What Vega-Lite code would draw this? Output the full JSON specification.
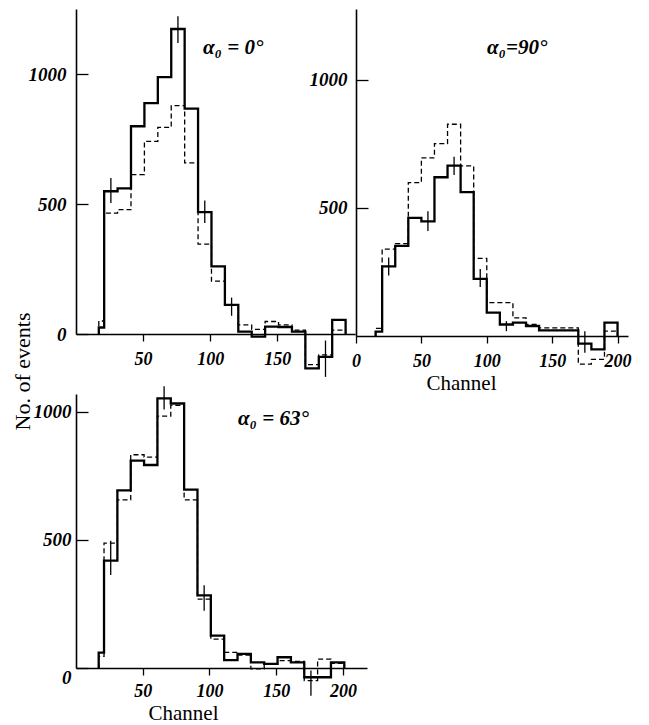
{
  "$schema": "https://vega.github.io/schema/vega-lite/v6.json",
  "background": "white",
  "padding": {"left": 11, "top": 9, "right": 5, "bottom": 0},
  "datasets": {
    "h": [
      {"p":1,"s":"solid","x":17,"n":0},{"p":1,"s":"solid","x":17,"n":25},{"p":1,"s":"solid","x":21,"n":549},{"p":1,"s":"solid","x":31,"n":560},{"p":1,"s":"solid","x":41,"n":799},{"p":1,"s":"solid","x":51,"n":888},{"p":1,"s":"solid","x":61,"n":988},{"p":1,"s":"solid","x":71,"n":1173},{"p":1,"s":"solid","x":81,"n":867},{"p":1,"s":"solid","x":91,"n":469},{"p":1,"s":"solid","x":101,"n":260},{"p":1,"s":"solid","x":111,"n":112},{"p":1,"s":"solid","x":121,"n":9},{"p":1,"s":"solid","x":131,"n":-10},{"p":1,"s":"solid","x":141,"n":28},{"p":1,"s":"solid","x":151,"n":27},{"p":1,"s":"solid","x":161,"n":9},{"p":1,"s":"solid","x":171,"n":-132},{"p":1,"s":"solid","x":181,"n":-88},{"p":1,"s":"solid","x":191,"n":54},{"p":1,"s":"solid","x":201,"n":0},
      {"p":1,"s":"dash","x":17,"n":0},{"p":1,"s":"dash","x":17,"n":50},{"p":1,"s":"dash","x":21,"n":465},{"p":1,"s":"dash","x":31,"n":478},{"p":1,"s":"dash","x":41,"n":613},{"p":1,"s":"dash","x":51,"n":741},{"p":1,"s":"dash","x":61,"n":795},{"p":1,"s":"dash","x":71,"n":878},{"p":1,"s":"dash","x":81,"n":658},{"p":1,"s":"dash","x":91,"n":346},{"p":1,"s":"dash","x":101,"n":203},{"p":1,"s":"dash","x":111,"n":110},{"p":1,"s":"dash","x":121,"n":35},{"p":1,"s":"dash","x":131,"n":18},{"p":1,"s":"dash","x":141,"n":48},{"p":1,"s":"dash","x":151,"n":35},{"p":1,"s":"dash","x":161,"n":15},{"p":1,"s":"dash","x":171,"n":-118},{"p":1,"s":"dash","x":181,"n":-80},{"p":1,"s":"dash","x":191,"n":15},{"p":1,"s":"dash","x":201,"n":0},
      {"p":2,"s":"solid","x":15,"n":0},{"p":2,"s":"solid","x":15,"n":17},{"p":2,"s":"solid","x":20,"n":272},{"p":2,"s":"solid","x":30,"n":352},{"p":2,"s":"solid","x":40,"n":461},{"p":2,"s":"solid","x":50,"n":448},{"p":2,"s":"solid","x":60,"n":620},{"p":2,"s":"solid","x":70,"n":665},{"p":2,"s":"solid","x":80,"n":562},{"p":2,"s":"solid","x":90,"n":223},{"p":2,"s":"solid","x":100,"n":91},{"p":2,"s":"solid","x":110,"n":45},{"p":2,"s":"solid","x":120,"n":52},{"p":2,"s":"solid","x":130,"n":39},{"p":2,"s":"solid","x":140,"n":22},{"p":2,"s":"solid","x":150,"n":22},{"p":2,"s":"solid","x":160,"n":22},{"p":2,"s":"solid","x":170,"n":-30},{"p":2,"s":"solid","x":180,"n":-52},{"p":2,"s":"solid","x":190,"n":52},{"p":2,"s":"solid","x":200,"n":0},
      {"p":2,"s":"dash","x":15,"n":0},{"p":2,"s":"dash","x":15,"n":30},{"p":2,"s":"dash","x":20,"n":339},{"p":2,"s":"dash","x":30,"n":361},{"p":2,"s":"dash","x":40,"n":599},{"p":2,"s":"dash","x":50,"n":696},{"p":2,"s":"dash","x":60,"n":751},{"p":2,"s":"dash","x":70,"n":827},{"p":2,"s":"dash","x":80,"n":664},{"p":2,"s":"dash","x":90,"n":303},{"p":2,"s":"dash","x":100,"n":130},{"p":2,"s":"dash","x":110,"n":130},{"p":2,"s":"dash","x":120,"n":71},{"p":2,"s":"dash","x":130,"n":45},{"p":2,"s":"dash","x":140,"n":32},{"p":2,"s":"dash","x":150,"n":32},{"p":2,"s":"dash","x":160,"n":32},{"p":2,"s":"dash","x":170,"n":-110},{"p":2,"s":"dash","x":180,"n":-91},{"p":2,"s":"dash","x":190,"n":19},{"p":2,"s":"dash","x":200,"n":0},
      {"p":3,"s":"solid","x":17,"n":0},{"p":3,"s":"solid","x":17,"n":60},{"p":3,"s":"solid","x":21,"n":419},{"p":3,"s":"solid","x":31,"n":693},{"p":3,"s":"solid","x":41,"n":809},{"p":3,"s":"solid","x":51,"n":792},{"p":3,"s":"solid","x":61,"n":1052},{"p":3,"s":"solid","x":71,"n":1032},{"p":3,"s":"solid","x":81,"n":696},{"p":3,"s":"solid","x":91,"n":283},{"p":3,"s":"solid","x":101,"n":126},{"p":3,"s":"solid","x":111,"n":31},{"p":3,"s":"solid","x":121,"n":55},{"p":3,"s":"solid","x":131,"n":22},{"p":3,"s":"solid","x":141,"n":16},{"p":3,"s":"solid","x":151,"n":42},{"p":3,"s":"solid","x":161,"n":22},{"p":3,"s":"solid","x":171,"n":-36},{"p":3,"s":"solid","x":181,"n":-36},{"p":3,"s":"solid","x":191,"n":22},{"p":3,"s":"solid","x":201,"n":0},
      {"p":3,"s":"dash","x":17,"n":0},{"p":3,"s":"dash","x":17,"n":45},{"p":3,"s":"dash","x":21,"n":487},{"p":3,"s":"dash","x":31,"n":656},{"p":3,"s":"dash","x":41,"n":832},{"p":3,"s":"dash","x":51,"n":823},{"p":3,"s":"dash","x":61,"n":983},{"p":3,"s":"dash","x":71,"n":1025},{"p":3,"s":"dash","x":81,"n":656},{"p":3,"s":"dash","x":91,"n":269},{"p":3,"s":"dash","x":101,"n":113},{"p":3,"s":"dash","x":111,"n":61},{"p":3,"s":"dash","x":121,"n":50},{"p":3,"s":"dash","x":131,"n":-3},{"p":3,"s":"dash","x":141,"n":16},{"p":3,"s":"dash","x":151,"n":29},{"p":3,"s":"dash","x":161,"n":26},{"p":3,"s":"dash","x":171,"n":-49},{"p":3,"s":"dash","x":181,"n":35},{"p":3,"s":"dash","x":191,"n":18},{"p":3,"s":"dash","x":201,"n":0}
    ],
    "e": [
      {"p":1,"x":26,"n":504,"n2":600},{"p":1,"x":76,"n":1119,"n2":1222},{"p":1,"x":96,"n":427,"n2":513},{"p":1,"x":116,"n":70,"n2":140},{"p":1,"x":186,"n":-165,"n2":-25},
      {"p":2,"x":25,"n":236,"n2":307},{"p":2,"x":55,"n":410,"n2":487},{"p":2,"x":75,"n":629,"n2":700},{"p":2,"x":95,"n":191,"n2":262},{"p":2,"x":115,"n":19,"n2":58},{"p":2,"x":175,"n":-65,"n2":19},
      {"p":3,"x":26,"n":363,"n2":496},{"p":3,"x":66,"n":1009,"n2":1099},{"p":3,"x":96,"n":223,"n2":323},{"p":3,"x":176,"n":-108,"n2":-10}
    ]
  },
  "config": {
    "view": {"stroke": null},
    "axis": {
      "grid": false, "domainColor": "#000", "domainWidth": 1.6, "tickColor": "#000", "tickWidth": 1.3,
      "labelColor": "#000", "labelFont": "Liberation Sans Narrow", "labelFontStyle": "italic", "labelFontWeight": "bold", "labelFontSize": 19,
      "labelOverlap": false, "labelFlush": false, "format": "d",
      "titleFont": "Liberation Serif", "titleFontWeight": "normal", "titleFontSize": 22, "titleColor": "#000"
    },
    "axisX": {"tickSize": 7, "labelPadding": 9, "labelFontSize": 18},
    "axisY": {"tickSize": -12},
    "title": {"font": "Liberation Sans Narrow", "fontStyle": "italic", "fontWeight": "bold", "fontSize": 21, "color": "#000", "anchor": "start", "baseline": "alphabetic", "frame": "group"}
  },
  "bounds": "flush",
  "align": "none",
  "columns": 2,
  "spacing": {"column": -11, "row": 58},
  "concat": [
    {
      "width": 279, "height": 325,
      "title": {"text": "α₀ = 0°", "dx": 127, "offset": -49},
      "encoding": {
        "x": {"field": "x", "type": "quantitative", "scale": {"domain": [0, 208], "nice": false, "zero": false}, "axis": {"values": [50, 100, 150], "title": null}},
        "y": {"field": "n", "type": "quantitative", "scale": {"domain": [0, 1250], "nice": false}, "axis": {"values": [0, 500, 1000], "labelPadding": 22, "title": "No. of events", "titleX": -54, "titleY": 362, "titleAngle": -90, "titleAlign": "center", "titleBaseline": "middle"}}
      },
      "layer": [
        {"data": {"name": "h"}, "transform": [{"filter": "datum.p == 1 && datum.s == 'dash'"}], "mark": {"type": "line", "interpolate": "step-after", "color": "#000", "strokeWidth": 1.3, "strokeDash": [5, 3]}},
        {"data": {"name": "h"}, "transform": [{"filter": "datum.p == 1 && datum.s == 'solid'"}], "mark": {"type": "line", "interpolate": "step-after", "color": "#000", "strokeWidth": 2.3}},
        {"data": {"name": "e"}, "transform": [{"filter": "datum.p == 1"}], "mark": {"type": "rule", "color": "#000", "strokeWidth": 1.3}, "encoding": {"y2": {"field": "n2"}}}
      ]
    },
    {
      "width": 272, "height": 327,
      "title": {"text": "α₀=90°", "dx": 131, "offset": -49},
      "encoding": {
        "x": {"field": "x", "type": "quantitative", "scale": {"domain": [0, 208], "nice": false, "zero": false}, "axis": {"values": [0, 50, 100, 150, 200], "title": "Channel", "titleX": 105, "titleY": 36, "titleFontSize": 21, "titleAlign": "center", "titleBaseline": "top"}},
        "y": {"field": "n", "type": "quantitative", "scale": {"domain": [0, 1277], "nice": false}, "axis": {"values": [500, 1000], "title": null, "labelPadding": 21}}
      },
      "layer": [
        {"data": {"name": "h"}, "transform": [{"filter": "datum.p == 2 && datum.s == 'dash'"}], "mark": {"type": "line", "interpolate": "step-after", "color": "#000", "strokeWidth": 1.3, "strokeDash": [5, 3]}},
        {"data": {"name": "h"}, "transform": [{"filter": "datum.p == 2 && datum.s == 'solid'"}], "mark": {"type": "line", "interpolate": "step-after", "color": "#000", "strokeWidth": 2.3}},
        {"data": {"name": "e"}, "transform": [{"filter": "datum.p == 2"}], "mark": {"type": "rule", "color": "#000", "strokeWidth": 1.3}, "encoding": {"y2": {"field": "n2"}}}
      ]
    },
    {
      "width": 291, "height": 274,
      "title": {"text": "α₀ = 63°", "dx": 162, "offset": -43},
      "encoding": {
        "x": {"field": "x", "type": "quantitative", "scale": {"domain": [0, 218], "nice": false, "zero": false}, "axis": {"values": [50, 100, 150, 200], "labelPadding": 7, "title": "Channel", "titleX": 107, "titleY": 34, "titleFontSize": 21, "titleAlign": "center", "titleBaseline": "top"}},
        "y": {"field": "n", "type": "quantitative", "scale": {"domain": [0, 1069], "nice": false}, "axis": {"values": [0, 500, 1000], "labelPadding": 17, "labelBaseline": {"condition": {"test": "datum.value === 0", "value": "top"}, "value": "middle"}, "title": null}}
      },
      "layer": [
        {"data": {"name": "h"}, "transform": [{"filter": "datum.p == 3 && datum.s == 'dash'"}], "mark": {"type": "line", "interpolate": "step-after", "color": "#000", "strokeWidth": 1.3, "strokeDash": [5, 3]}},
        {"data": {"name": "h"}, "transform": [{"filter": "datum.p == 3 && datum.s == 'solid'"}], "mark": {"type": "line", "interpolate": "step-after", "color": "#000", "strokeWidth": 2.3}},
        {"data": {"name": "e"}, "transform": [{"filter": "datum.p == 3"}], "mark": {"type": "rule", "color": "#000", "strokeWidth": 1.3}, "encoding": {"y2": {"field": "n2"}}}
      ]
    }
  ]
}
